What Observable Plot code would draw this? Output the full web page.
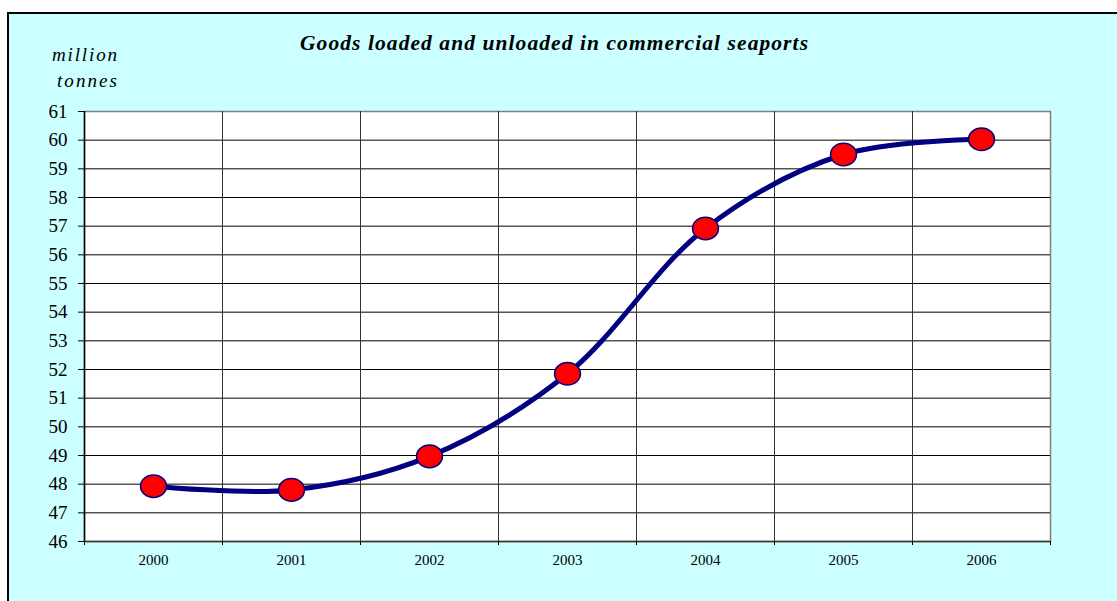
<!DOCTYPE html>
<html>
<head>
<meta charset="utf-8">
<script src="https://cdn.jsdelivr.net/npm/d3@7"></script>
<script src="https://cdn.jsdelivr.net/npm/@observablehq/plot@0.6"></script>
<style>
  html, body { margin: 0; padding: 0; overflow: hidden; width: 1117px; height: 601px; background: #ffffff; }
  #frame { position: absolute; left: 7px; top: 12px; width: 1200px; height: 700px; border: 2px solid #000; background: #CCFFFF; }
  #chart { position: absolute; left: 0; top: 0; }
  #labels { position: absolute; left: 0; top: 0; }
  #chart svg text, #labels text { font-family: "Liberation Serif", "Times New Roman", serif !important; }
</style>
</head>
<body>
<div id="frame"></div>
<div id="chart"></div>
<svg id="labels" width="1117" height="601"></svg>
<script>
// ---- data ----
const years = [2000, 2001, 2002, 2003, 2004, 2005, 2006];
const goods = [47.93, 47.8, 48.97, 51.85, 56.92, 59.5, 60.03];
const yTicks = [46, 47, 48, 49, 50, 51, 52, 53, 54, 55, 56, 57, 58, 59, 60, 61];
const titleText = "Goods loaded and unloaded in commercial seaports";
const unitLines = ["million", "tonnes"];

const data = years.map((y, i) => ({year: y, value: goods[i]}));
const boundaries = years.map(y => y - 0.5).concat([years[years.length - 1] + 0.5]);
const innerGrid = yTicks.slice(1, -1);
const serif = "Liberation Serif";
const xMin = boundaries[0];
const yMin = yTicks[0];

const ellipseSymbol = {
  draw(ctx, size) {
    const r = Math.sqrt(size / Math.PI);
    const rx = r * 1.08, ry = r * 0.94, k = 0.5523;
    ctx.moveTo(rx, 0);
    ctx.bezierCurveTo(rx, ry * k, rx * k, ry, 0, ry);
    ctx.bezierCurveTo(-rx * k, ry, -rx, ry * k, -rx, 0);
    ctx.bezierCurveTo(-rx, -ry * k, -rx * k, -ry, 0, -ry);
    ctx.bezierCurveTo(rx * k, -ry, rx, -ry * k, rx, 0);
    ctx.closePath();
  }
};

const chart = Plot.plot({
  width: 1117,
  height: 601,
  marginLeft: 84,
  marginRight: 67,
  marginTop: 111,
  marginBottom: 60,
  style: {background: "transparent", fontFamily: serif, color: "#000"},
  x: {domain: [boundaries[0], boundaries[boundaries.length - 1]]},
  y: {domain: [yTicks[0], yTicks[yTicks.length - 1]]},
  marks: [
    Plot.frame({fill: "white", stroke: "#808080", strokeWidth: 1.5}),
    Plot.ruleY(innerGrid, {stroke: "#000", strokeWidth: 1}),
    Plot.ruleX(boundaries.slice(1, -1), {stroke: "#333", strokeWidth: 1}),
    Plot.ruleX([xMin], {stroke: "#000", strokeWidth: 1.5}),
    Plot.ruleY([yMin], {stroke: "#333", strokeWidth: 1.5}),
    Plot.axisY({ticks: yTicks, tickSize: 6, tickFormat: () => "", label: null}),
    Plot.axisX({ticks: boundaries, tickSize: 4, tickFormat: () => "", label: null}),
    Plot.text(yTicks, {x: () => xMin, y: d => d, text: d => String(d), dx: -17, textAnchor: "end", fontSize: 19, fontFamily: serif, fill: "#000"}),
    Plot.text(years, {x: d => d, y: () => yMin, text: d => String(d), dy: 19, fontSize: 15, fontFamily: serif, fill: "#000"}),
    Plot.line(data, {x: "year", y: "value", curve: "catmull-rom", stroke: "#000080", strokeWidth: 5, strokeLinejoin: "round", strokeLinecap: "round"}),
    Plot.dot(data, {x: "year", y: "value", r: 12, symbol: ellipseSymbol, fill: "#FF0000", stroke: "#000080", strokeWidth: 1.5})
  ]
});
document.getElementById("chart").appendChild(chart);

// ---- titles ----
const svg = d3.select("#labels");
svg.append("text")
  .attr("x", 300).attr("y", 50)
  .attr("textLength", 508).attr("lengthAdjust", "spacing")
  .style("font-size", "21.5px").style("font-weight", "bold").style("font-style", "italic")
  .text(titleText);
svg.append("text")
  .attr("x", 52).attr("y", 61)
  .attr("textLength", 65).attr("lengthAdjust", "spacing")
  .style("font-size", "19px").style("font-style", "italic")
  .text(unitLines[0]);
svg.append("text")
  .attr("x", 57).attr("y", 87)
  .attr("textLength", 60).attr("lengthAdjust", "spacing")
  .style("font-size", "19px").style("font-style", "italic")
  .text(unitLines[1]);
</script>
</body>
</html>
